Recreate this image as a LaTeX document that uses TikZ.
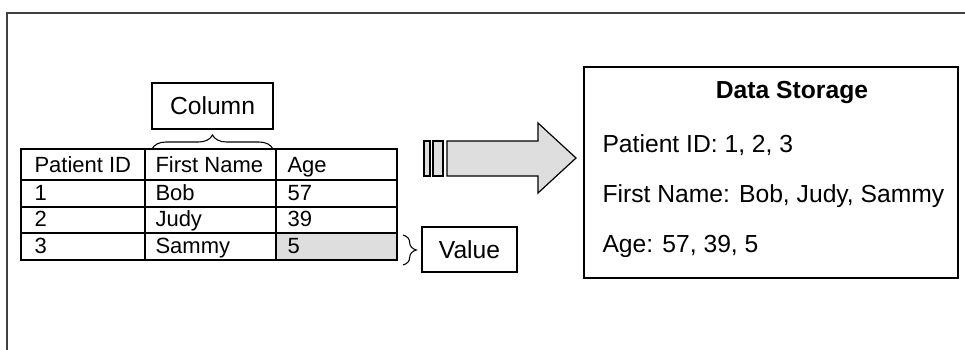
\documentclass[tikz,border=0pt]{standalone}
\usepackage{fontspec}
\setmainfont{Liberation Sans}
\usetikzlibrary{calc}
\usetikzlibrary{decorations.pathreplacing}

\tikzset{
  cell/.style={anchor=base west, inner sep=0pt},
  labelbox/.style={draw, inner sep=0pt, font=\fontsize{18.5}{22}\selectfont},
  shade/.style={fill=black!13}
}

\begin{document}
\begin{tikzpicture}[x=0.75pt, y=-0.75pt, line width=0.8pt, font=\fontsize{16.5}{20}\selectfont]
\useasboundingbox (0,0) rectangle (965,350);

% outer frame, only top and left edges show
\coordinate (FB) at (7,352); \coordinate (FC) at (7,13); \coordinate (FR) at (967,13);
\draw[black!75, line width=1.2pt] (FB) -- (FC) -- (FR);

% table grid
\fill[shade] (276,233) rectangle (397,260);
\draw (21,149) rectangle (397,260);
\foreach \y in {180,207,233} \draw (21,\y) -- (397,\y);
\foreach \x in {145,276} \draw (\x,149) -- (\x,260);

% header row
\node[cell] (h1) at (34,172) {Patient ID};
\node[cell] (h2) at (155,172) {First Name};
\node[cell] (h3) at (287,172) {Age};
% rows
\node[cell] (a1) at (34,200) {1};
\node[cell] (a2) at (155,200) {Bob};
\node[cell] (a3) at (287,200) {57};
\node[cell] (b1) at (34,226.5) {2};
\node[cell] (b2) at (155,226.5) {Judy};
\node[cell] (b3) at (287,226.5) {39};
\node[cell] (c1) at (34,253) {3};
\node[cell] (c2) at (155,253) {Sammy};
\node[cell] (c3) at (287,253) {5};

% column label with brace
\node[labelbox, minimum width=90.75pt, minimum height=34.5pt] (col) at (212.5,106) {Column};
\coordinate (BL) at (152,149); \coordinate (BR) at (273,149);
\draw[decorate, decoration={brace, amplitude=10.5pt}] (BL) -- (BR);

% value label with brace
\node[labelbox, minimum width=71.25pt, minimum height=33.75pt] (val) at (469.5,249.5) {Value};
\coordinate (VT) at (403,235); \coordinate (VB) at (403,265);
\draw[decorate, decoration={brace, amplitude=10pt}] (VT) -- (VB);

% block arrow
\draw[fill=black!13, line width=0.9pt] (424,141) rectangle (430,176);
\draw[fill=black!13, line width=0.9pt] (433,141) rectangle (443,176);
\draw[fill=black!13, line width=0.9pt] (447,141) -- (538,141) -- (538,123) -- (576,158)
  -- (538,193) -- (538,176) -- (447,176) -- cycle;

% storage box
\node[labelbox, minimum width=280.5pt, minimum height=158.25pt] (store) at (771,172.5) {};
\begin{scope}[font=\fontsize{18.5}{22}\selectfont]
\node[anchor=base, inner sep=0pt] (title) at (792,98) {\bfseries Data Storage};
\node[cell] (s1) at (602,152) {Patient ID: 1, 2, 3};
\node[cell] (s2) at (602,202) {First Name: Bob, Judy, Sammy};
\node[cell] (s3) at (602,252) {Age: 57, 39, 5};
\end{scope}
\end{tikzpicture}
\end{document}
